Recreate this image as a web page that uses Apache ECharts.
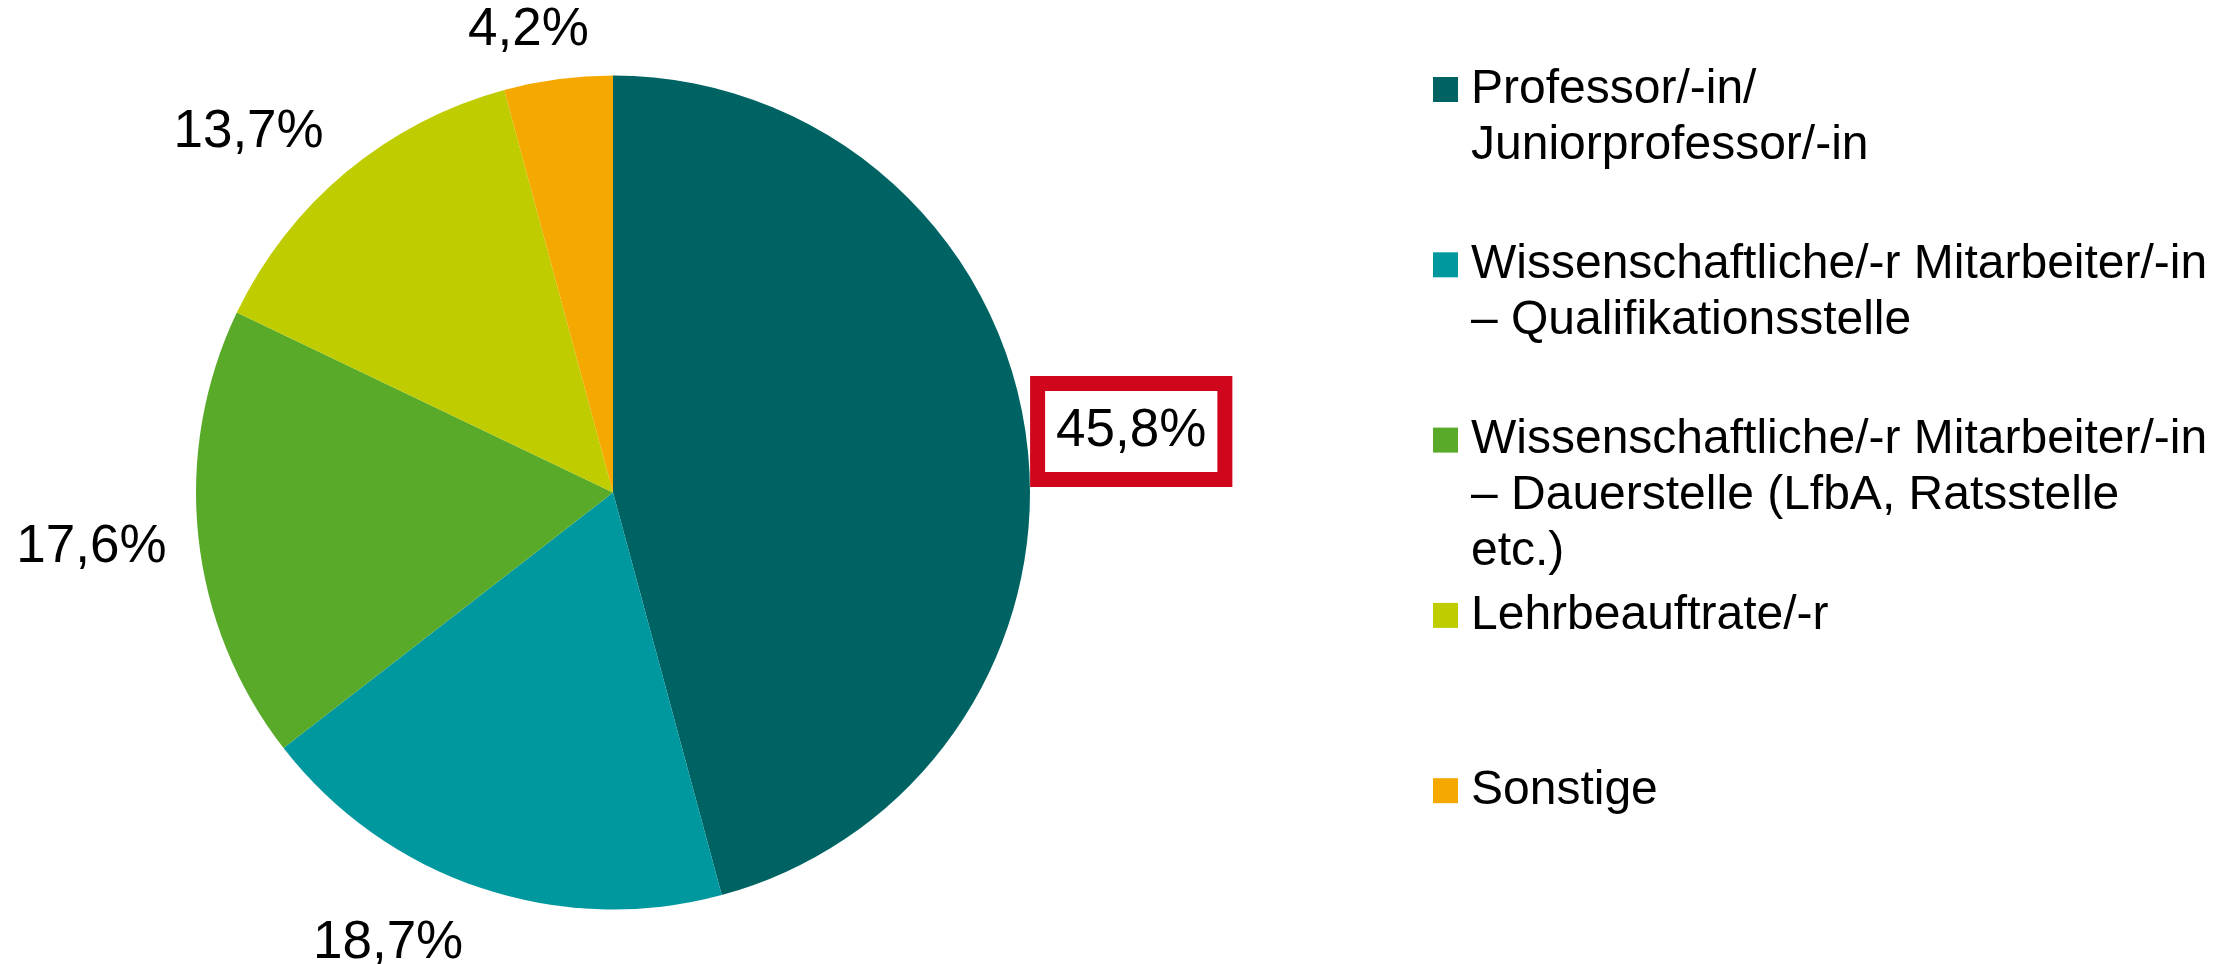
<!DOCTYPE html>
<html><head><meta charset="utf-8">
<script src="https://cdn.jsdelivr.net/npm/echarts@6/dist/echarts.min.js"></script>
<style>html,body{margin:0;padding:0;background:#fff}#c{width:2238px;height:964px}</style>
</head><body><div id="c"></div>
<script>
const categories = [
  "Professor/-in/\nJuniorprofessor/-in",
  "Wissenschaftliche/-r Mitarbeiter/-in\n– Qualifikationsstelle",
  "Wissenschaftliche/-r Mitarbeiter/-in\n– Dauerstelle (LfbA, Ratsstelle\netc.)",
  "Lehrbeauftrate/-r",
  "Sonstige"
];
const shares = [45.8, 18.7, 17.6, 13.7, 4.2];
const colors = ['#006363', '#00989F', '#5AAA2A', '#BFCD00', '#F5A800'];
const highlighted = 0;

// label nudges (layout only)
const labelNudge = [[-18, -2], [-2, 25], [5, 7], [3, -15], [40, -17]];

const FONT = 'Liberation Sans, Arial, Helvetica, sans-serif';
const LH = 56;

const legends = categories.map((name, i) => {
  const n = name.split('\n').length;
  const center = 89.5 + i * 175.3;
  return {
    show: true, orient: 'vertical', left: 1433, top: center - (2 * n - 1) * LH / 2, padding: 0,
    itemWidth: 25, itemHeight: 25, icon: 'rect', selectedMode: false,
    itemStyle: { borderWidth: 0 },
    data: [name],
    formatter: nm => '\n'.repeat(n - 1) + nm,
    textStyle: { fontFamily: FONT, fontSize: 48, lineHeight: LH, color: '#000', padding: [0, 0, 0, 8] }
  };
});

const data = categories.map((name, i) => {
  const item = { name: name, value: shares[i], itemStyle: { color: colors[i] } };
  if (i === highlighted) {
    item.label = { borderColor: '#D0061C', borderWidth: 15, padding: [14, 11], backgroundColor: '#fff' };
  }
  return item;
});

const chart = echarts.init(document.getElementById('c'), null, { renderer: 'canvas' });
chart.setOption({
  animation: false,
  backgroundColor: '#fff',
  legend: legends,
  series: [{
    type: 'pie',
    center: [613, 492.5],
    radius: 417,
    startAngle: 90,
    clockwise: true,
    avoidLabelOverlap: false,
    itemStyle: { borderWidth: 0 },
    emphasis: { disabled: true },
    label: {
      show: true, position: 'outside', alignTo: 'none',
      fontFamily: FONT, fontSize: 53, color: '#000', lineHeight: 53,
      formatter: p => shares[p.dataIndex].toFixed(1).replace('.', ',') + '%'
    },
    labelLine: { show: false, length: 32, length2: 0 },
    labelLayout: p => ({ dx: labelNudge[p.dataIndex][0], dy: labelNudge[p.dataIndex][1] }),
    data: data
  }]
});
</script></body></html>
